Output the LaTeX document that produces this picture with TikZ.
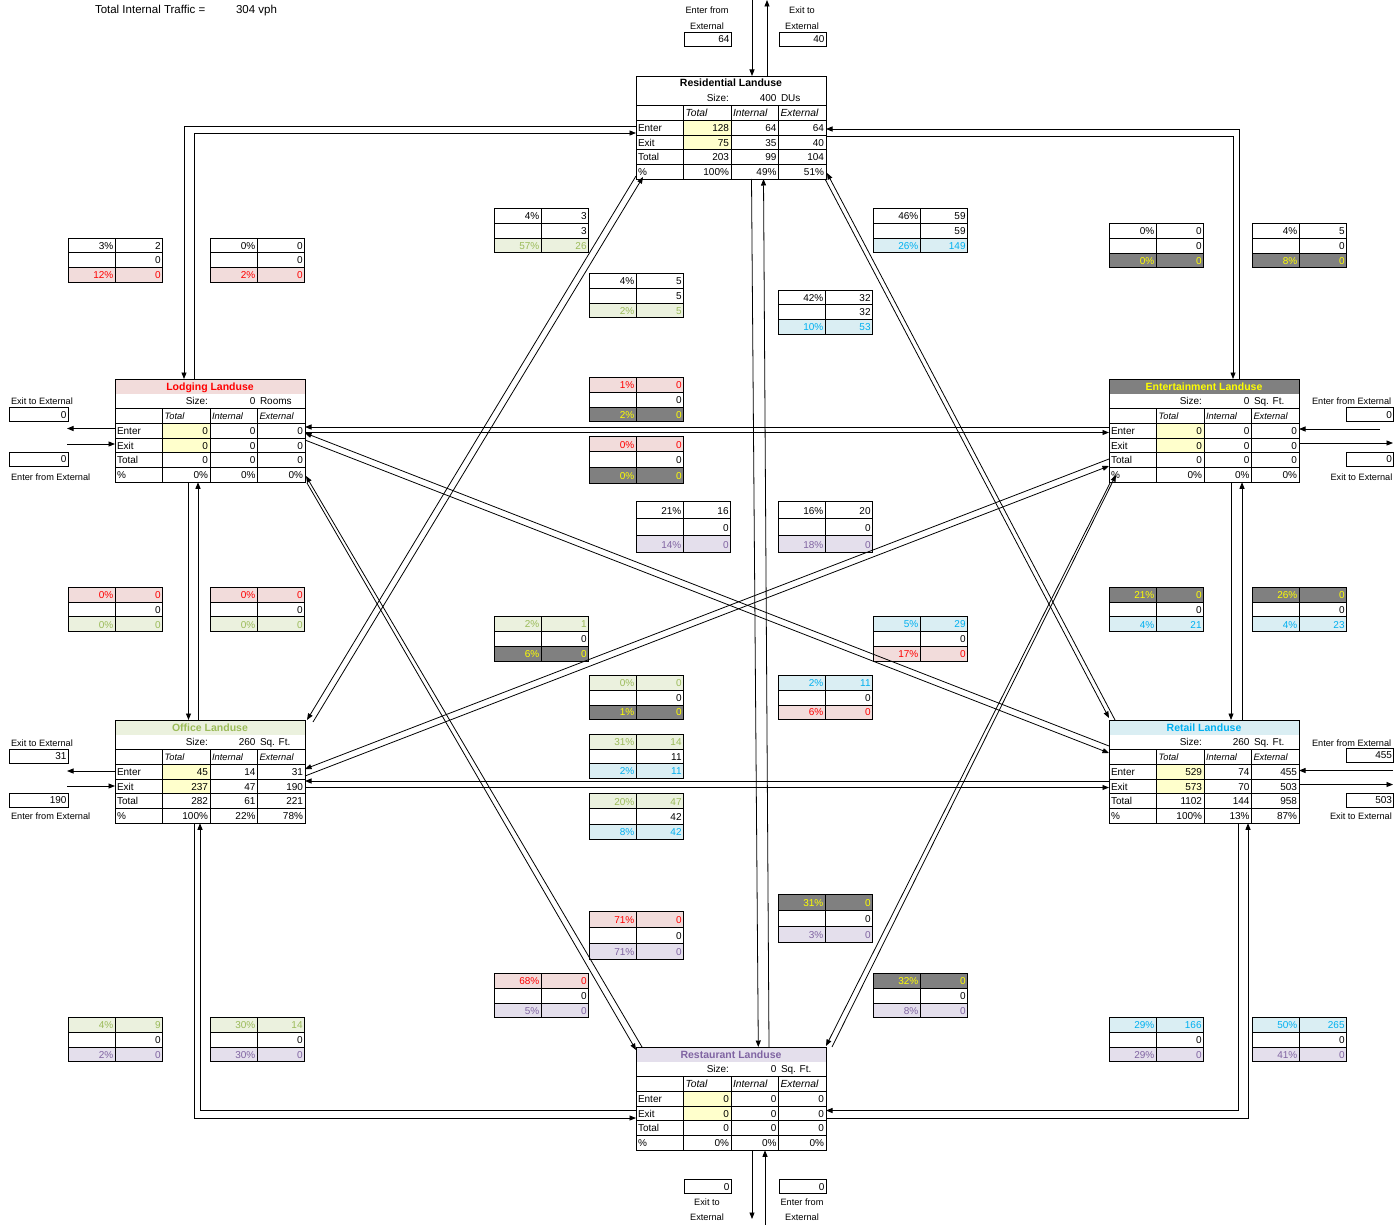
\documentclass[tikz,border=0pt]{standalone}
\usepackage{fontspec}
\setmainfont{Liberation Sans}
\usetikzlibrary{arrows.meta}

\definecolor{wbg}{HTML}{FFFFFF}
\definecolor{wfg}{HTML}{000000}
\definecolor{pkbg}{HTML}{F2DCDB}
\definecolor{pkfg}{HTML}{FF0000}
\definecolor{gnbg}{HTML}{EBF1DE}
\definecolor{gnfg}{HTML}{9BBB59}
\definecolor{blbg}{HTML}{DAEEF3}
\definecolor{blfg}{HTML}{00B0F0}
\definecolor{gybg}{HTML}{808080}
\definecolor{gyfg}{HTML}{FFFF00}
\definecolor{lvbg}{HTML}{E4DFEC}
\definecolor{lvfg}{HTML}{8064A2}
\definecolor{inbg}{HTML}{FFFFCC}

% column-heading size used by the next table
\def\hdrfs{9.3}

% land-use table: #1 name, #2 left, #3 top, #4 colour set, #5 title, #6 size, #7 unit, #8 twelve values
\newcommand{\landuse}[8]{%
  \begin{scope}[shift={(#2,#3)}]
    \fill[#4bg] (0,0) rectangle (190,14.75);
    \fill[inbg] (47.5,44.25) rectangle (95,73.75);
    \node[ttl,text=#4fg] (#1-title) at (95,11) {#5};
    \node[val] (#1-sizel) at (93,25.8) {Size:};
    \node[val] (#1-size) at (140.5,25.8) {#6};
    \node[lab] (#1-unit) at (145,25.8) {#7};
    \node[hdr] (#1-h1) at (49.5,40.5) {Total};
    \node[hdr] (#1-h2) at (97,40.5) {Internal};
    \node[hdr] (#1-h3) at (144.5,40.5) {External};
    \foreach \t [count=\r from 0] in {Enter,Exit,Total,\%}
      \node[lab] (#1-row\r) at (2,{55.3+14.75*\r}) {\t};
    \foreach \v [count=\i from 0] in {#8} {
      \pgfmathtruncatemacro\rr{div(\i,3)}
      \pgfmathtruncatemacro\cc{mod(\i,3)}
      \node[val] (#1-v\i) at ({93+47.5*\cc},{55.3+14.75*\rr}) {\v};
    }
    \foreach \k in {2,...,6} \draw[grid] (0,{14.75*\k}) -- (190,{14.75*\k});
    \foreach \c in {47.5,95,142.5} \draw[grid] (\c,29.5) -- (\c,103.25);
    \node[frame] (#1) at (95,51.625) {};
  \end{scope}}

% split-share box: #1 left, #2 top, #3 top colour set, #4 #5 top pair, #6 middle value, #7 bottom colour set, #8 #9 bottom pair
\def\rh{14.75}
\newcommand{\tbox}[9]{%
  \begin{scope}[shift={(#1,#2)}]
    \fill[#3bg] (0,0) rectangle (94.5,\rh);
    \fill[#7bg] (0,2*\rh) rectangle (94.5,3*\rh);
    \draw[grid] (0,0) rectangle (94.5,3*\rh) (0,\rh) -- (94.5,\rh) (0,2*\rh) -- (94.5,2*\rh) (47.25,0) -- (47.25,3*\rh);
    \node[val,text=#3fg] at (45.3,\rh-3.6) {#4};
    \node[val,text=#3fg] at (92.6,\rh-3.6) {#5};
    \node[val] at (92.6,2*\rh-3.6) {#6};
    \node[val,text=#7fg] at (45.3,3*\rh-3.6) {#8};
    \node[val,text=#7fg] at (92.6,3*\rh-3.6) {#9};
  \end{scope}}

\begin{document}
\begin{tikzpicture}[x=1pt,y=-1pt,
  every node/.style={inner sep=0pt, outer sep=0pt},
  font=\fontsize{10}{12}\selectfont,
  grid/.style={line width=0.8pt},
  val/.style={anchor=base east},
  lab/.style={anchor=base west},
  hdr/.style={anchor=base west, font=\fontsize{\hdrfs}{11}\selectfont\itshape},
  ttl/.style={anchor=base, font=\fontsize{10.5}{12}\selectfont\bfseries},
  note/.style={anchor=base, font=\fontsize{9.2}{11}\selectfont},
  notel/.style={anchor=base west, font=\fontsize{9.2}{11}\selectfont},
  frame/.style={draw, line width=0.8pt, minimum width=190pt, minimum height=103.25pt},
  extbox/.style={draw, line width=0.8pt, minimum width=47pt, minimum height=14pt},
  extwide/.style={draw, line width=0.8pt, minimum width=58.5pt, minimum height=14pt},
  num/.style={anchor=east},
  link/.style={line width=0.8pt, -{Triangle[length=6.5pt,width=5pt]}},
]
\useasboundingbox (0,0) rectangle (1399,1225);

% headline
\node[lab, font=\fontsize{11.5}{13}\selectfont] (tot) at (95,14) {Total Internal Traffic =};
\node[lab, font=\fontsize{11.5}{13}\selectfont] (totv) at (236,14) {304 vph};

% land-use tables
\def\hdrfs{10.3}
\landuse{res}{636}{76}{w}{Residential Landuse}{400}{DUs}{128,64,64,75,35,40,203,99,104,100\%,49\%,51\%}
\landuse{rst}{636}{1047}{lv}{Restaurant Landuse}{0}{Sq. Ft.}{0,0,0,0,0,0,0,0,0,0\%,0\%,0\%}
\def\hdrfs{9.3}
\landuse{lod}{115}{379}{pk}{Lodging Landuse}{0}{Rooms}{0,0,0,0,0,0,0,0,0,0\%,0\%,0\%}
\landuse{ent}{1109}{379}{gy}{Entertainment Landuse}{0}{Sq. Ft.}{0,0,0,0,0,0,0,0,0,0\%,0\%,0\%}
\landuse{off}{115}{720}{gn}{Office Landuse}{260}{Sq. Ft.}{45,14,31,237,47,190,282,61,221,100\%,22\%,78\%}
\landuse{ret}{1109}{720}{bl}{Retail Landuse}{260}{Sq. Ft.}{529,74,455,573,70,503,1102,144,958,100\%,13\%,87\%}

% share boxes
\tbox{68}{238}{w}{3\%}{2}{0}{pk}{12\%}{0}
\tbox{210}{238}{w}{0\%}{0}{0}{pk}{2\%}{0}
\tbox{494}{208.5}{w}{4\%}{3}{3}{gn}{57\%}{26}
\tbox{589}{273.5}{w}{4\%}{5}{5}{gn}{2\%}{5}
\tbox{873}{208.5}{w}{46\%}{59}{59}{bl}{26\%}{149}
\tbox{778}{290}{w}{42\%}{32}{32}{bl}{10\%}{53}
\tbox{1109}{223.5}{w}{0\%}{0}{0}{gy}{0\%}{0}
\tbox{1252}{223.5}{w}{4\%}{5}{0}{gy}{8\%}{0}
\tbox{589}{377.5}{pk}{1\%}{0}{0}{gy}{2\%}{0}
\def\rh{15.7}
\tbox{589}{436}{pk}{0\%}{0}{0}{gy}{0\%}{0}
\def\rh{17}
\tbox{636}{501}{w}{21\%}{16}{0}{lv}{14\%}{0}
\tbox{778}{501}{w}{16\%}{20}{0}{lv}{18\%}{0}
\def\rh{14.9}
\tbox{68}{587}{pk}{0\%}{0}{0}{gn}{0\%}{0}
\tbox{210}{587}{pk}{0\%}{0}{0}{gn}{0\%}{0}
\tbox{1109}{587}{gy}{21\%}{0}{0}{bl}{4\%}{21}
\tbox{1252}{587}{gy}{26\%}{0}{0}{bl}{4\%}{23}
\tbox{494}{616.5}{gn}{2\%}{1}{0}{gy}{6\%}{0}
\tbox{873}{616.5}{bl}{5\%}{29}{0}{pk}{17\%}{0}
\def\rh{14.6}
\tbox{589}{675.7}{gn}{0\%}{0}{0}{gy}{1\%}{0}
\tbox{778}{675.7}{bl}{2\%}{11}{0}{pk}{6\%}{0}
\tbox{589}{734.5}{gn}{31\%}{14}{11}{bl}{2\%}{11}
\def\rh{15.3}
\tbox{589}{793.3}{gn}{20\%}{47}{42}{bl}{8\%}{42}
\def\rh{16}
\tbox{778}{894}{gy}{31\%}{0}{0}{lv}{3\%}{0}
\tbox{589}{911}{pk}{71\%}{0}{0}{lv}{71\%}{0}
\def\rh{14.75}
\tbox{494}{973.5}{pk}{68\%}{0}{0}{lv}{5\%}{0}
\tbox{873}{973.5}{gy}{32\%}{0}{0}{lv}{8\%}{0}
\tbox{68}{1017.5}{gn}{4\%}{9}{0}{lv}{2\%}{0}
\tbox{210}{1017.5}{gn}{30\%}{14}{0}{lv}{30\%}{0}
\tbox{1109}{1017.5}{bl}{29\%}{166}{0}{lv}{29\%}{0}
\tbox{1252}{1017.5}{bl}{50\%}{265}{0}{lv}{41\%}{0}

% external trips: residential
\node[note] (resInL1) at (707,14) {Enter from};
\node[note] (resInL2) at (707,29.5) {External};
\node[extbox] (resIn) at (707.5,39) {};
\node[num] (resInV) at ([xshift=-1.5pt]resIn.east) {64};
\node[note] (resOutL1) at (802,14) {Exit to};
\node[note] (resOutL2) at (802,29.5) {External};
\node[extbox] (resOut) at (802.5,39) {};
\node[num] (resOutV) at ([xshift=-1.5pt]resOut.east) {40};
\coordinate (resTopIn) at (752,0);
\coordinate (resTopOut) at (767,0);
\draw[link] (resTopIn) -- (resTopIn |- res.north);
\draw[link] (resTopOut |- res.north) -- (resTopOut);

% external trips: lodging
\node[notel] (lodOutL) at (11,404.5) {Exit to External};
\node[extwide] (lodOut) at (38.75,414.7) {};
\node[num] (lodOutV) at ([xshift=-1.5pt]lodOut.east) {0};
\node[extwide] (lodIn) at (38.75,459.3) {};
\node[num] (lodInV) at ([xshift=-1.5pt]lodIn.east) {0};
\node[notel] (lodInL) at (11,480) {Enter from External};
\coordinate (lodOutEnd) at (67,428.5);
\coordinate (lodInStart) at (67,444);
\draw[link] (lodOutEnd -| lod.west) -- (lodOutEnd);
\draw[link] (lodInStart) -- (lodInStart -| lod.west);

% external trips: entertainment
\node[notel] (entInL) at (1312,404.5) {Enter from External};
\node[extbox] (entIn) at (1370,414.7) {};
\node[num] (entInV) at ([xshift=-1.5pt]entIn.east) {0};
\node[extbox] (entOut) at (1370,459.3) {};
\node[num] (entOutV) at ([xshift=-1.5pt]entOut.east) {0};
\node[notel] (entOutL) at (1330.5,480) {Exit to External};
\coordinate (entInStart) at (1380,429);
\coordinate (entOutEnd) at (1393,443);
\draw[link] (entInStart) -- (entInStart -| ent.east);
\draw[link] (entOutEnd -| ent.east) -- (entOutEnd);

% external trips: office
\node[notel] (offOutL) at (11,746.5) {Exit to External};
\node[extwide] (offOut) at (38.75,756) {};
\node[num] (offOutV) at ([xshift=-1.5pt]offOut.east) {31};
\node[extwide] (offIn) at (38.75,800.5) {};
\node[num] (offInV) at ([xshift=-1.5pt]offIn.east) {190};
\node[notel] (offInL) at (11,819.5) {Enter from External};
\coordinate (offOutEnd) at (67,771);
\coordinate (offInStart) at (67,786);
\draw[link] (offOutEnd -| off.west) -- (offOutEnd);
\draw[link] (offInStart) -- (offInStart -| off.west);

% external trips: retail
\node[notel] (retInL) at (1312,746.5) {Enter from External};
\node[extbox] (retIn) at (1370,755.5) {};
\node[num] (retInV) at ([xshift=-1.5pt]retIn.east) {455};
\node[extbox] (retOut) at (1370,800.5) {};
\node[num] (retOutV) at ([xshift=-1.5pt]retOut.east) {503};
\node[notel] (retOutL) at (1330,819.5) {Exit to External};
\coordinate (retInStart) at (1393,770.5);
\coordinate (retOutEnd) at (1393,784.5);
\draw[link] (retInStart) -- (retInStart -| ret.east);
\draw[link] (retOutEnd -| ret.east) -- (retOutEnd);

% external trips: restaurant
\node[extbox] (rstOut) at (707.5,1186.7) {};
\node[num] (rstOutV) at ([xshift=-1.5pt]rstOut.east) {0};
\node[note] (rstOutL1) at (707,1205) {Exit to};
\node[note] (rstOutL2) at (707,1220) {External};
\node[extbox] (rstIn) at (802.5,1186.7) {};
\node[num] (rstInV) at ([xshift=-1.5pt]rstIn.east) {0};
\node[note] (rstInL1) at (802,1205) {Enter from};
\node[note] (rstInL2) at (802,1220) {External};
\coordinate (rstBotOut) at (752,1219);
\coordinate (rstBotIn) at (765,1225);
\draw[link] (rstBotOut |- rst.south) -- (rstBotOut);
\draw[link] (rstBotIn) -- (rstBotIn |- rst.south);

% internal links: elbows and straight runs
\coordinate (rl1) at (184,126);
\coordinate (rl2) at (194,133);
\draw[link] (rl1 -| res.west) -| (rl1 |- lod.north);
\draw[link] (rl2 |- lod.north) |- (rl2 -| res.west);
\coordinate (re1) at (1239,129);
\coordinate (re2) at (1233,136);
\draw[link] (re1 |- ent.north) |- (re1 -| res.east);
\draw[link] (re2 -| res.east) -| (re2 |- ent.north);
\coordinate (le1) at (0,427);
\coordinate (le2) at (0,432.5);
\draw[link] (le1 -| ent.west) -- (le1 -| lod.east);
\draw[link] (le2 -| lod.east) -- (le2 -| ent.west);
\coordinate (or1) at (0,781);
\coordinate (or2) at (0,787.5);
\draw[link] (or1 -| ret.west) -- (or1 -| off.east);
\draw[link] (or2 -| off.east) -- (or2 -| ret.west);
\coordinate (lo1) at (188.5,0);
\coordinate (lo2) at (198,0);
\draw[link] (lo1 |- lod.south) -- (lo1 |- off.north);
\draw[link] (lo2 |- off.north) -- (lo2 |- lod.south);
\coordinate (er1) at (1231,0);
\coordinate (er2) at (1242,0);
\draw[link] (er1 |- ent.south) -- (er1 |- ret.north);
\draw[link] (er2 |- ret.north) -- (er2 |- ent.south);
\coordinate (os1) at (194,1118);
\coordinate (os2) at (200,1110.5);
\draw[link] (os1 |- off.south) |- (os1 -| rst.west);
\draw[link] (os2 -| rst.west) -| (os2 |- off.south);
\coordinate (rs1) at (1238,1110.5);
\coordinate (rs2) at (1248,1118);
\draw[link] (rs1 |- ret.south) |- (rs1 -| rst.east);
\draw[link] (rs2 -| rst.east) -| (rs2 |- ret.south);

% internal links: residential - restaurant
\coordinate (rr1a) at (751.5,179);
\coordinate (rr1b) at (758.3,1047);
\coordinate (rr2a) at (769,1047);
\coordinate (rr2b) at (763.5,179);
\draw[link] (rr1a) -- (rr1b);
\draw[link] (rr2a) -- (rr2b);

% internal links: diagonals
\coordinate (ro1a) at (636,176);   \coordinate (ro1b) at (307,720);
\coordinate (ro2a) at (313,722);   \coordinate (ro2b) at (643,177);
\draw[link] (ro1a) -- (ro1b);
\draw[link] (ro2a) -- (ro2b);
\coordinate (rt1a) at (825,179);   \coordinate (rt1b) at (1109,718);
\coordinate (rt2a) at (1115,720);  \coordinate (rt2b) at (827,173);
\draw[link] (rt1a) -- (rt1b);
\draw[link] (rt2a) -- (rt2b);
\coordinate (ls1a) at (307,483);   \coordinate (ls1b) at (636,1050);
\coordinate (ls2a) at (642,1047);  \coordinate (ls2b) at (306,476);
\draw[link] (ls1a) -- (ls1b);
\draw[link] (ls2a) -- (ls2b);
\coordinate (es1a) at (1110,483);  \coordinate (es1b) at (826,1046);
\coordinate (es2a) at (832,1047);  \coordinate (es2b) at (1116,475);
\draw[link] (es1a) -- (es1b);
\draw[link] (es2a) -- (es2b);
\coordinate (lr1a) at (305,440);   \coordinate (lr1b) at (1109,753);
\coordinate (lr2a) at (1109,746);  \coordinate (lr2b) at (305,433);
\draw[link] (lr1a) -- (lr1b);
\draw[link] (lr2a) -- (lr2b);
\coordinate (eo1a) at (1109,459);  \coordinate (eo1b) at (305,769);
\coordinate (eo2a) at (305,776);   \coordinate (eo2b) at (1109,466);
\draw[link] (eo1a) -- (eo1b);
\draw[link] (eo2a) -- (eo2b);
\end{tikzpicture}
\end{document}
